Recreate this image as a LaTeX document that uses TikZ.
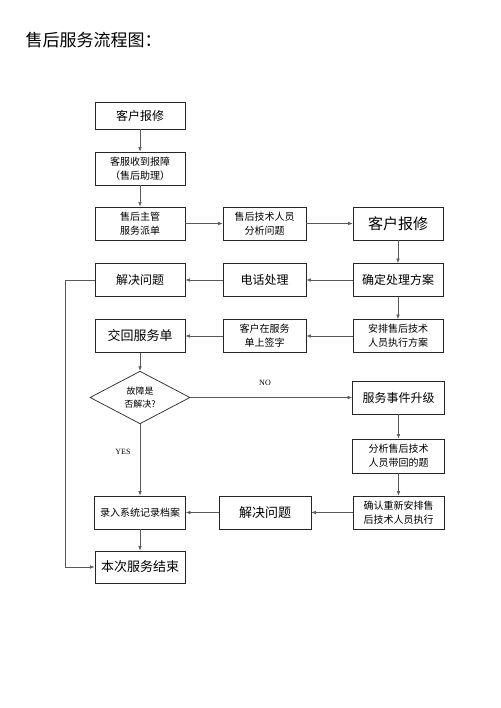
\documentclass[tikz,border=0pt]{standalone}
\usepackage{fontspec}
\setmainfont{Liberation Serif}
\newfontfamily\cjk{Noto Sans CJK SC}
\usetikzlibrary{arrows.meta,shapes.geometric}

\begin{document}
\begin{tikzpicture}[%
x=1pt, y=-1pt,
box/.style={draw=black!85, line width=0.7pt, minimum width=90pt, minimum height=33pt, inner sep=1pt, align=center, font=\cjk\fontsize{10}{14}\selectfont},
midbox/.style={box, minimum width=83pt},
txtm/.style={font=\cjk\fontsize{12}{14}\selectfont},
txtl/.style={font=\cjk\fontsize{13}{15}\selectfont},
line/.style={draw=black!65, line width=0.6pt, -{Latex[length=4.5pt,width=3.5pt]}},
]
\useasboundingbox (0,0) rectangle (500,708);
%% title;
\node [anchor=west, font=\cjk\fontsize{17}{20}\selectfont] (title) at (22,40) {售后服务流程图：};
%% left column;
\node [box, txtm, minimum height=27pt] (repair) at (140,115.5) {客户报修};
\node [box] (receive) at (140,168.5) {客服收到报障\\（售后助理）};
\node [box] (assign) at (140,223.5) {售后主管\\服务派单};
\node [box, txtm] (solveL) at (140,280) {解决问题};
\node [box, txtl] (back) at (140,336) {交回服务单};
\node [draw=black!85, line width=0.7pt, diamond, minimum width=100pt, minimum height=51pt, inner sep=0pt, align=center, font=\cjk\fontsize{9}{13}\selectfont] (fixed) at (140,397.5) {故障是\\否解决?};
\node [box, minimum width=91pt] (record) at (140,512.5) {录入系统记录档案};
\node [box, txtl, minimum height=32pt] (finish) at (140,567) {本次服务结束};
%% middle column;
\node [midbox] (analyse) at (264.5,223.5) {售后技术人员\\分析问题};
\node [midbox, txtm] (phone) at (264.5,280) {电话处理};
\node [midbox] (sign) at (264.5,336) {客户在服务\\单上签字};
\node [box, txtl, minimum width=92pt] (solveM) at (265,512.5) {解决问题};
%% right column;
\node [box, font=\cjk\fontsize{15}{17}\selectfont] (repairR) at (398,223.5) {客户报修};
\node [box, txtm] (plan) at (398,280) {确定处理方案};
\node [box] (arrange) at (398,336) {安排售后技术\\人员执行方案};
\node [box, txtm, minimum width=92pt] (upgrade) at (398.5,397.5) {服务事件升级};
\node [box, minimum width=92pt, minimum height=34pt] (analyseR) at (398.5,456) {分析售后技术\\人员带回的题};
\node [box, minimum width=91pt] (confirm) at (398.5,512.5) {确认重新安排售\\后技术人员执行};
%% labels;
\node [font=\fontsize{8}{10}\selectfont] (no) at (265,383) {NO};
\node [font=\fontsize{8}{10}\selectfont] (yes) at (123,452) {YES};
%% connectors;
\draw [line] (repair) -- (receive);
\draw [line] (receive) -- (assign);
\draw [line] (assign) -- (analyse);
\draw [line] (analyse) -- (repairR);
\draw [line] (repairR) -- (plan);
\draw [line] (plan) -- (phone);
\draw [line] (phone) -- (solveL);
\draw [line] (plan) -- (arrange);
\draw [line] (arrange) -- (sign);
\draw [line] (sign) -- (back);
\draw [line] (back) -- (fixed);
\draw [line] (fixed.east) -- (upgrade.west |- fixed.east);
\draw [line] (fixed) -- (record);
\draw [line] (upgrade) -- (analyseR);
\draw [line] (analyseR) -- (confirm);
\draw [line] (confirm) -- (solveM);
\draw [line] (solveM) -- (record);
\draw [line] (record) -- (finish);
\draw [line] (solveL.west) -- ++(-29,0) |- (finish.west);
\end{tikzpicture}
\end{document}
